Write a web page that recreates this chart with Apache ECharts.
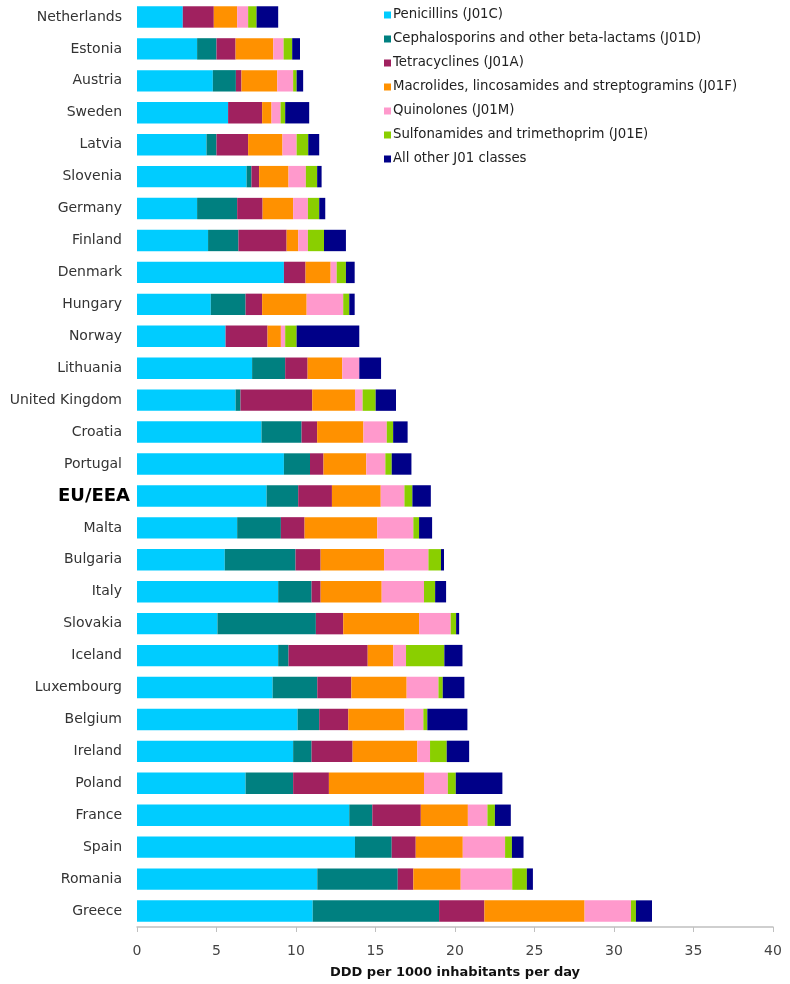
<!DOCTYPE html>
<html>
<head>
<meta charset="utf-8">
<script src="https://cdn.jsdelivr.net/npm/echarts@6/dist/echarts.min.js"></script>
<style>
html,body{margin:0;padding:0;background:#fff;}
#chart{width:790px;height:984px;}
</style>
</head>
<body>
<div id="chart"></div>
<script>
const countries = ['Netherlands','Estonia','Austria','Sweden','Latvia','Slovenia','Germany','Finland','Denmark','Hungary','Norway','Lithuania','United Kingdom','Croatia','Portugal','EU/EEA','Malta','Bulgaria','Italy','Slovakia','Iceland','Luxembourg','Belgium','Ireland','Poland','France','Spain','Romania','Greece'];
const seriesNames = ['Penicillins (J01C)','Cephalosporins and other beta-lactams (J01D)','Tetracyclines (J01A)','Macrolides, lincosamides and streptogramins (J01F)','Quinolones (J01M)','Sulfonamides and trimethoprim (J01E)','All other J01 classes'];
const penicillins   = [2.88,3.78,4.77,5.73,4.37,6.89,3.78,4.47,9.24,4.64,5.57,7.24,6.20,7.83,9.24,8.15,6.30,5.52,8.88,5.06,8.88,8.53,10.10,9.82,6.83,13.35,13.71,11.34,11.05];
const cephalosporins= [0,1.22,1.45,0,0.63,0.31,2.52,1.91,0,2.19,0,2.08,0.31,2.52,1.64,1.99,2.75,4.45,2.10,6.19,0.65,2.81,1.36,1.16,2.99,1.45,2.31,5.06,7.95];
const tetracyclines = [1.95,1.20,0.35,2.14,1.99,0.48,1.60,3.03,1.36,1.04,2.64,1.41,4.51,0.98,0.85,2.12,1.49,1.58,0.57,1.72,4.98,2.14,1.83,2.58,2.25,3.05,1.51,0.98,2.85];
const macrolides    = [1.47,2.37,2.25,0.59,2.16,1.85,1.92,0.73,1.58,2.80,0.84,2.18,2.69,2.91,2.69,3.07,4.57,3.99,3.84,4.77,1.61,3.48,3.53,4.07,5.98,2.96,2.96,2.98,6.30];
const quinolones    = [0.69,0.65,1.00,0.57,0.89,1.09,0.93,0.61,0.38,2.30,0.27,1.07,0.48,1.47,1.20,1.49,2.27,2.79,2.66,1.99,0.80,2.00,1.19,0.80,1.50,1.23,2.66,3.24,2.92];
const sulfonamides  = [0.53,0.54,0.22,0.29,0.73,0.71,0.71,1.01,0.58,0.38,0.72,0,0.82,0.40,0.40,0.50,0.36,0.79,0.70,0.34,2.41,0.27,0.25,1.05,0.50,0.47,0.43,0.92,0.31];
const otherJ01      = [1.36,0.49,0.41,1.51,0.69,0.28,0.38,1.38,0.55,0.34,3.94,1.37,1.28,0.91,1.24,1.16,0.82,0.19,0.69,0.19,1.14,1.36,2.52,1.41,2.93,1.00,0.73,0.38,1.01];
const xTicks = [0,5,10,15,20,25,30,35,40];
const axisTitle = 'DDD per 1000 inhabitants per day';

const colors = ['#00CCFF','#008080','#A0215F','#FF9100','#FF99CC','#8ACF00','#000088'];
const values = [penicillins,cephalosporins,tetracyclines,macrolides,quinolones,sulfonamides,otherJ01];
const FONT = 'DejaVu Sans';

const chart = echarts.init(document.getElementById('chart'));
chart.setOption({
  animation:false,
  color:colors,
  textStyle:{fontFamily:FONT},
  legend:{
    orient:'vertical', left:379, top:3,
    icon:'rect', itemWidth:7, itemHeight:7, itemGap:10,
    textStyle:{fontFamily:FONT, fontSize:13.3, color:'#222', lineHeight:14, padding:[0,0,0,-3]},
    data:seriesNames
  },
  grid:{left:137, right:17, top:1, bottom:50, containLabel:false},
  xAxis:{
    type:'value', min:0, max:40, interval:5,
    name:axisTitle, nameLocation:'middle', nameGap:39,
    nameTextStyle:{fontFamily:FONT, fontWeight:'bold', fontSize:13, color:'#111'},
    axisLine:{show:true, lineStyle:{color:'#c0c0c0', width:1.5}},
    axisTick:{show:true, length:5, lineStyle:{color:'#c0c0c0'}},
    axisLabel:{fontFamily:FONT, fontSize:14, color:'#444', margin:17,
      formatter:function(v){return xTicks.indexOf(v)>=0?String(v):'';}},
    splitLine:{show:false}
  },
  yAxis:{
    type:'category', inverse:true, data:countries,
    axisLine:{show:false}, axisTick:{show:false},
    axisLabel:{fontFamily:FONT, fontSize:14, color:'#333', margin:15,
      formatter:function(v){return v==='EU/EEA'?'{b|'+v+'}':v;},
      rich:{b:{fontFamily:FONT, fontWeight:'bold', fontSize:18, color:'#000', padding:[0,-8,0,0]}}
    }
  },
  series:seriesNames.map(function(n,i){
    return {name:n, type:'bar', stack:'total', data:values[i], barCategoryGap:'33%'};
  })
});
</script>
</body>
</html>
